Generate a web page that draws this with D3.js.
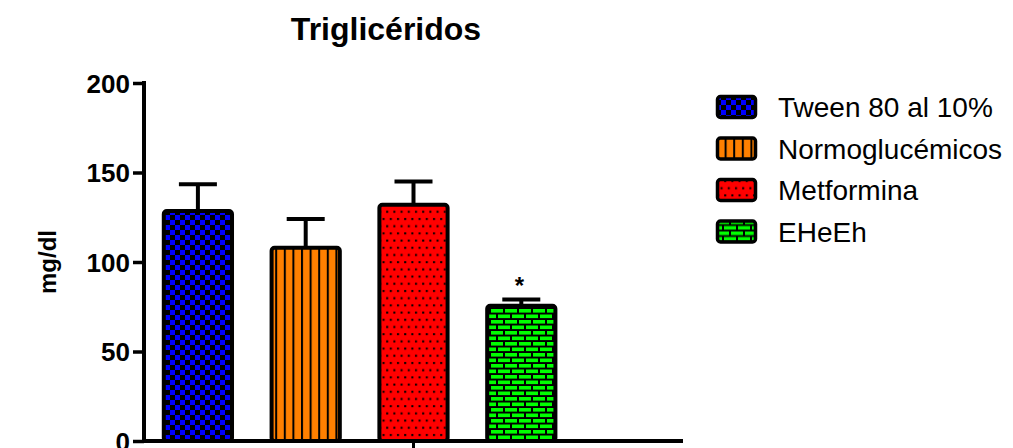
<!DOCTYPE html>
<html>
<head>
<meta charset="utf-8">
<script src="https://cdn.jsdelivr.net/npm/d3@7"></script>
<style>
  body { margin: 0; background: #fff; }
  text { font-family: Arial, "Liberation Sans", sans-serif; }
</style>
</head>
<body>
<svg id="chart" width="1013" height="448"></svg>
<script>
// data
var groups = ["Tween 80 al 10%", "Normoglucémicos", "Metformina", "EHeEh"];
var means = [128.5, 108, 132, 75.5];
var errs = [15, 16, 13, 3.5];
var marks = ["", "", "", "*"];
var yTicks = [0, 50, 100, 150, 200];
var patternIds = ["pChecker", "pStripes", "pDots", "pBricks"];

var svg = d3.select("#chart");
var defs = svg.append("defs");

// checkerboard blue/black
var p1 = defs.append("pattern").attr("id", "pChecker").attr("patternUnits", "userSpaceOnUse")
  .attr("width", 10).attr("height", 10);
p1.append("rect").attr("width", 10).attr("height", 10).attr("fill", "#000");
p1.append("rect").attr("x", 0).attr("y", 0).attr("width", 5).attr("height", 5).attr("fill", "#0000ff");
p1.append("rect").attr("x", 5).attr("y", 5).attr("width", 5).attr("height", 5).attr("fill", "#0000ff");

// orange with vertical black lines
var p2 = defs.append("pattern").attr("id", "pStripes").attr("patternUnits", "userSpaceOnUse")
  .attr("width", 8.6).attr("height", 10);
p2.append("rect").attr("width", 8.6).attr("height", 10).attr("fill", "#ff8000");
p2.append("rect").attr("x", 0).attr("width", 2).attr("height", 10).attr("fill", "#000");

// red with small black dots
var p3 = defs.append("pattern").attr("id", "pDots").attr("patternUnits", "userSpaceOnUse")
  .attr("width", 7.2).attr("height", 14.4);
p3.append("rect").attr("width", 7.2).attr("height", 14.4).attr("fill", "#ff0000");
p3.append("rect").attr("x", 1).attr("y", 2).attr("width", 2).attr("height", 2).attr("fill", "#000");
p3.append("rect").attr("x", 4.6).attr("y", 9.2).attr("width", 2).attr("height", 2).attr("fill", "#000");

// green bricks
var p4 = defs.append("pattern").attr("id", "pBricks").attr("patternUnits", "userSpaceOnUse")
  .attr("width", 14).attr("height", 11);
p4.append("rect").attr("width", 14).attr("height", 11).attr("fill", "#000");
p4.append("rect").attr("x", 1).attr("y", 1).attr("width", 12).attr("height", 3.6).attr("fill", "#00ff00");
p4.append("rect").attr("x", 8).attr("y", 6.5).attr("width", 12).attr("height", 3.6).attr("fill", "#00ff00");
p4.append("rect").attr("x", -6).attr("y", 6.5).attr("width", 12).attr("height", 3.6).attr("fill", "#00ff00");

var x0 = 144, x1 = 683, yTop = 83, yBot = 441;

// 5 slots: 4 groups plus an empty one at the right
var x = d3.scaleBand()
  .domain(groups.concat(["_"]))
  .range([x0, x1])
  .padding(0);

var y = d3.scaleLinear()
  .domain([0, 200])
  .range([yBot, yTop]);

var barW = x.bandwidth() * 0.67;

// title
svg.append("text")
  .attr("x", 386).attr("y", 40)
  .attr("text-anchor", "middle")
  .style("font-size", "32px").style("font-weight", "bold")
  .text("Triglicéridos");

// y label
svg.append("text")
  .attr("transform", "translate(56,262) rotate(-90)")
  .attr("text-anchor", "middle")
  .style("font-size", "24px").style("font-weight", "bold")
  .text("mg/dl");

// error bars
var eg = svg.append("g");
groups.forEach(function(g, i) {
  var cx = x(g) + x.bandwidth() / 2;
  eg.append("line")
    .attr("x1", cx).attr("x2", cx)
    .attr("y1", y(means[i])).attr("y2", y(means[i] + errs[i]))
    .attr("stroke", "#000").attr("stroke-width", 4);
  eg.append("line")
    .attr("x1", cx - 19).attr("x2", cx + 19)
    .attr("y1", y(means[i] + errs[i])).attr("y2", y(means[i] + errs[i]))
    .attr("stroke", "#000").attr("stroke-width", 4);
});

// bars
svg.append("g").selectAll("rect")
  .data(groups)
  .enter().append("rect")
  .attr("x", function(d) { return x(d) + (x.bandwidth() - barW) / 2 + 2; })
  .attr("y", function(d, i) { return y(means[i]); })
  .attr("width", barW - 4)
  .attr("height", function(d, i) { return y(0) - y(means[i]); })
  .attr("rx", 3)
  .attr("fill", function(d, i) { return "url(#" + patternIds[i] + ")"; })
  .attr("stroke", "#000").attr("stroke-width", 4);

// significance marks
svg.append("g").selectAll("text")
  .data(groups)
  .enter().append("text")
  .attr("x", function(d) { return x(d) + x.bandwidth() / 2 - 2; })
  .attr("y", function(d, i) { return y(means[i] + errs[i]) - 6; })
  .attr("text-anchor", "middle")
  .style("font-size", "24px").style("font-weight", "bold")
  .text(function(d, i) { return marks[i]; });

// y axis
var yAxis = d3.axisLeft(y).tickValues(yTicks).tickSize(11).tickPadding(3);
var ya = svg.append("g")
  .attr("transform", "translate(" + x0 + ",0)")
  .call(yAxis);
ya.select(".domain").remove();
ya.selectAll(".tick line").attr("stroke", "#000").attr("stroke-width", 3.5);
ya.selectAll(".tick text")
  .style("font-size", "26px").style("font-weight", "bold")
  .attr("fill", "#000").attr("font-family", null)
  .attr("dy", "0.36em");
svg.append("line")
  .attr("x1", x0).attr("x2", x0).attr("y1", yTop - 2).attr("y2", yBot + 2)
  .attr("stroke", "#000").attr("stroke-width", 4);

// x axis: a single centred tick
svg.append("line")
  .attr("x1", x0 - 2).attr("x2", x1).attr("y1", yBot).attr("y2", yBot)
  .attr("stroke", "#000").attr("stroke-width", 4);
svg.append("line")
  .attr("x1", (x0 + x1) / 2).attr("x2", (x0 + x1) / 2).attr("y1", yBot).attr("y2", yBot + 8)
  .attr("stroke", "#000").attr("stroke-width", 3);

// legend
var legend = svg.append("g").attr("transform", "translate(716,95)");
var rowH = 41.5;
groups.forEach(function(g, i) {
  var row = legend.append("g").attr("transform", "translate(0," + (i * rowH) + ")");
  row.append("rect")
    .attr("x", 1.5).attr("y", 1.5).attr("width", 38).attr("height", 21)
    .attr("rx", 3)
    .attr("fill", "url(#" + patternIds[i] + ")")
    .attr("stroke", "#000").attr("stroke-width", 3.5);
  row.append("text")
    .attr("x", 62).attr("y", 22)
    .style("font-size", "28px")
    .text(g);
});
</script>
</body>
</html>
